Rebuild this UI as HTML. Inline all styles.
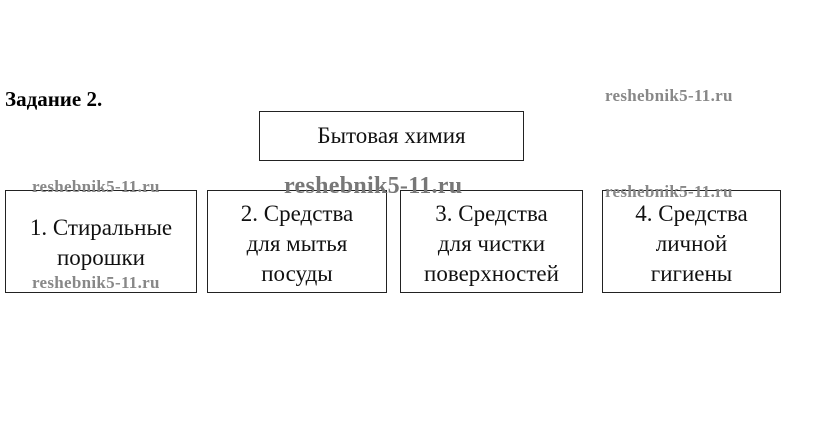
<!DOCTYPE html>
<html><head><meta charset="utf-8"><style>
body{margin:0;width:813px;height:427px;background:#fff;position:relative;overflow:hidden;font-family:"Liberation Serif","DejaVu Serif",serif;}
.b{position:absolute;border:1px solid #222;box-sizing:border-box;}
.t{position:absolute;font-family:"Liberation Serif","DejaVu Serif",serif;font-size:23px;color:#111;text-align:center;width:100%;line-height:30px;left:0;}
.w{position:absolute;font-family:"Liberation Serif",serif;font-weight:bold;color:#888;font-size:17px;letter-spacing:0.3px;white-space:nowrap;}
</style></head><body>
<div style="position:absolute;left:5px;top:87px;font-weight:bold;font-size:21px;font-family:'Liberation Serif',serif;">Задание 2.</div>
<div class="b" style="left:259px;top:111px;width:265px;height:50px;"><div class="t" style="top:9px;">Бытовая химия</div></div>
<div class="b" style="left:5px;top:190px;width:192px;height:103px;"><div class="t" style="top:22px;">1. Стиральные<br>порошки</div></div>
<div class="b" style="left:207px;top:190px;width:180px;height:103px;"><div class="t" style="top:8px;">2. Средства<br>для мытья<br>посуды</div></div>
<div class="b" style="left:400px;top:190px;width:183px;height:103px;"><div class="t" style="top:8px;">3. Средства<br>для чистки<br>поверхностей</div></div>
<div class="b" style="left:602px;top:190px;width:179px;height:103px;"><div class="t" style="top:8px;">4. Средства<br>личной<br>гигиены</div></div>
<div class="w" style="left:605px;top:86px;">reshebnik5-11.ru</div>
<div class="w" style="left:32px;top:177px;">reshebnik5-11.ru</div>
<div class="w" style="left:32px;top:273px;">reshebnik5-11.ru</div>
<div class="w" style="left:605px;top:182px;">reshebnik5-11.ru</div>
<div class="w" style="left:284px;top:173px;font-size:24px;color:#777;">reshebnik5-11.ru</div>
</body></html>
